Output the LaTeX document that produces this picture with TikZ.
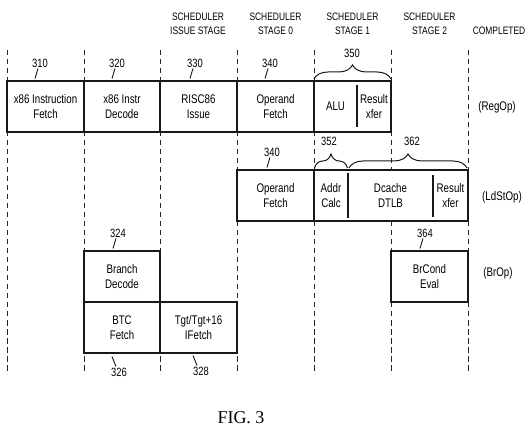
\documentclass[tikz,border=0pt]{standalone}
\usepackage{fontspec}
\setmainfont[FakeStretch=0.78]{Liberation Sans}
\newfontfamily\figfont{Liberation Serif}
\usetikzlibrary{decorations.pathreplacing}
\begin{document}
\begin{tikzpicture}[x=1pt,y=-1pt,
  gridline/.style={dash pattern=on 5.5pt off 3.5pt, line width=1pt, black!85},
  box/.style={draw=black!90, line width=1.2pt, fill=white, inner sep=0pt, align=center,
    font=\fontsize{12.5}{15}\selectfont},
  txt/.style={inner sep=0pt, align=center, font=\fontsize{12.5}{15}\selectfont},
  divider/.style={line width=1.2pt, black!90},
  num/.style={inner sep=1pt, font=\fontsize{12}{14}\selectfont},
  hdr/.style={inner sep=0pt, align=center, font=\fontsize{10.8}{14}\selectfont},
  tag/.style={inner sep=0pt, font=\fontsize{12.5}{14}\selectfont},
  leader/.style={line width=0.9pt, black!90},
  brc/.style={decorate, decoration={brace, amplitude=14pt}, line width=1pt, black!90}]
\useasboundingbox[fill=white] (0,0) rectangle (530,430);

% stage grid
\foreach \x in {7,84,160,237,314,391,468}
  \draw[gridline] (\x,50) -- (\x,374);

% headers
\node[hdr] (h1) at (198,24) {SCHEDULER\\ISSUE STAGE};
\node[hdr] (h2) at (275.5,24) {SCHEDULER\\STAGE 0};
\node[hdr] (h3) at (352.5,24) {SCHEDULER\\STAGE 1};
\node[hdr] (h4) at (429.5,24) {SCHEDULER\\STAGE 2};
\node[hdr] (h5) at (499,31) {COMPLETED};

% row 1 (RegOp)
\node[box, minimum width=77, minimum height=51] (b310) at (45.5,106.5) {x86 Instruction\\Fetch};
\node[box, minimum width=76, minimum height=51] (b320) at (122,106.5) {x86 Instr\\Decode};
\node[box, minimum width=77, minimum height=51] (b330) at (198.5,106.5) {RISC86\\Issue};
\node[box, minimum width=77, minimum height=51] (b340) at (275.5,106.5) {Operand\\Fetch};
\node[box, minimum width=77, minimum height=51] (b350) at (352.5,106.5) {};
\node[txt] (alu) at (335.5,106.5) {ALU};
\node[txt] (rx1) at (374,106.5) {Result\\xfer};
\coordinate (d1a) at (357,85);
\coordinate (d1b) at (357,127);
\draw[divider] (d1a) -- (d1b);

% row 2 (LdStOp)
\node[box, minimum width=77, minimum height=51] (b340b) at (275.5,195.5) {Operand\\Fetch};
\node[box, minimum width=154, minimum height=51] (b352) at (391,195.5) {};
\node[txt] (addr) at (331,195.5) {Addr\\Calc};
\node[txt] (dc) at (390.5,195.5) {Dcache\\DTLB};
\node[txt] (rx2) at (450.5,195.5) {Result\\xfer};
\coordinate (d2a) at (348,173);
\coordinate (d2b) at (348,218);
\coordinate (d3a) at (433,175);
\coordinate (d3b) at (433,217);
\draw[divider] (d2a) -- (d2b);
\draw[divider] (d3a) -- (d3b);

% row 3/4 (BrOp)
\node[box, minimum width=76, minimum height=51] (b324) at (122,276.5) {Branch\\Decode};
\node[box, minimum width=77, minimum height=51] (b364) at (429.5,276.5) {BrCond\\Eval};
\node[box, minimum width=76, minimum height=51] (b326) at (122,327.5) {BTC\\Fetch};
\node[box, minimum width=77, minimum height=51] (b328) at (198.5,327.5) {Tgt/Tgt+16\\IFetch};

% braces
\coordinate (br1a) at (314,79);
\coordinate (br1b) at (391,79);
\draw[brc] (br1a) -- (br1b);
\coordinate (br2a) at (314.5,168);
\coordinate (br2b) at (347.5,168);
\draw[brc] (br2a) -- (br2b);
\coordinate (br3a) at (349,168);
\coordinate (br3b) at (467,168);
\draw[brc] (br3a) -- (br3b);

% reference numbers
\node[num] (l310) at (40,63) {310};
\node[num] (l320) at (117,63) {320};
\node[num] (l330) at (195,63) {330};
\node[num] (l340) at (270,63) {340};
\node[num] (l350) at (352,53) {350};
\node[num] (l340b) at (272,152) {340};
\node[num] (l352) at (329,141) {352};
\node[num] (l362) at (412,141) {362};
\node[num] (l324) at (118,233) {324};
\node[num] (l364) at (425,233) {364};
\node[num] (l326) at (119,372) {326};
\node[num] (l328) at (201,371) {328};

\draw[leader] ([xshift=-2pt]l310.south) -- ++(-3,10);
\draw[leader] ([xshift=-2pt]l320.south) -- ++(-3,10);
\draw[leader] ([xshift=-2pt]l330.south) -- ++(-3,10);
\draw[leader] ([xshift=-2pt]l340.south) -- ++(-3,10);
\draw[leader] ([xshift=-2pt]l340b.south) -- ++(-3,10);
\draw[leader] ([xshift=-2pt]l324.south) -- ++(-3,10);
\draw[leader] ([xshift=-2pt]l364.south) -- ++(-3,10);
\draw[leader] ([xshift=-3pt]l326.north) -- ++(-4,-10);
\draw[leader] ([xshift=-4pt]l328.north) -- ++(-4,-10);

% op classes
\node[tag] (reg) at (497,107) {(RegOp)};
\node[tag] (ldst) at (502,197) {(LdStOp)};
\node[tag] (brop) at (498,273) {(BrOp)};

\node[inner sep=0pt, font=\figfont\fontsize{18}{20}\selectfont] (fig) at (241,418) {FIG. 3};
\end{tikzpicture}
\end{document}
